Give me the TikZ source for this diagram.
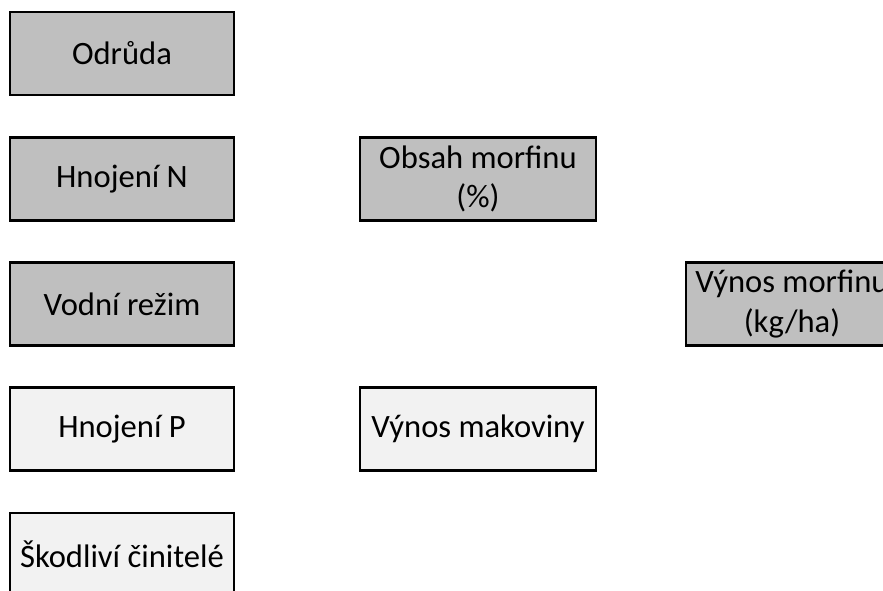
\documentclass[tikz,border=0pt]{standalone}
\usepackage{fontspec}
\setmainfont{Carlito}
\definecolor{boxdark}{HTML}{BFBFBF}
\definecolor{boxlight}{HTML}{F2F2F2}

\begin{document}
\begin{tikzpicture}[x=0.5pt, y=-0.5pt,
  box/.style = {draw, line width=1.4pt, align=center, inner sep=0pt,
    minimum height=41.5pt, font=\fontsize{16.3}{19.7}\selectfont},
  dark/.style = {box, fill=boxdark},
  light/.style = {box, fill=boxlight}]

\useasboundingbox (0,0) rectangle (883,590);
\clip (0,0) rectangle (883,590);

\node[dark, minimum width=112pt] (odruda) at (122,53.5) {Odrůda};
\node[dark, minimum width=112pt] (hnojn) at (122,179) {Hnojení N};
\node[dark, minimum width=112pt] (vodni) at (122,304) {Vodní režim};
\node[light, minimum width=112pt] (hnojp) at (122,429) {Hnojení P};
\node[light, minimum width=112pt] (skodlivi) at (122,554.5) {Škodliví činitelé};

\node[dark, minimum width=118pt] (obsah) at (478,179) {Obsah morfinu\\(\%)};
\node[light, minimum width=118pt] (makovina) at (478,429) {Výnos makoviny};

\node[dark, minimum width=106pt] (vynos) at (792,304) {Výnos morfinu\\(kg/ha)};

\end{tikzpicture}
\end{document}
